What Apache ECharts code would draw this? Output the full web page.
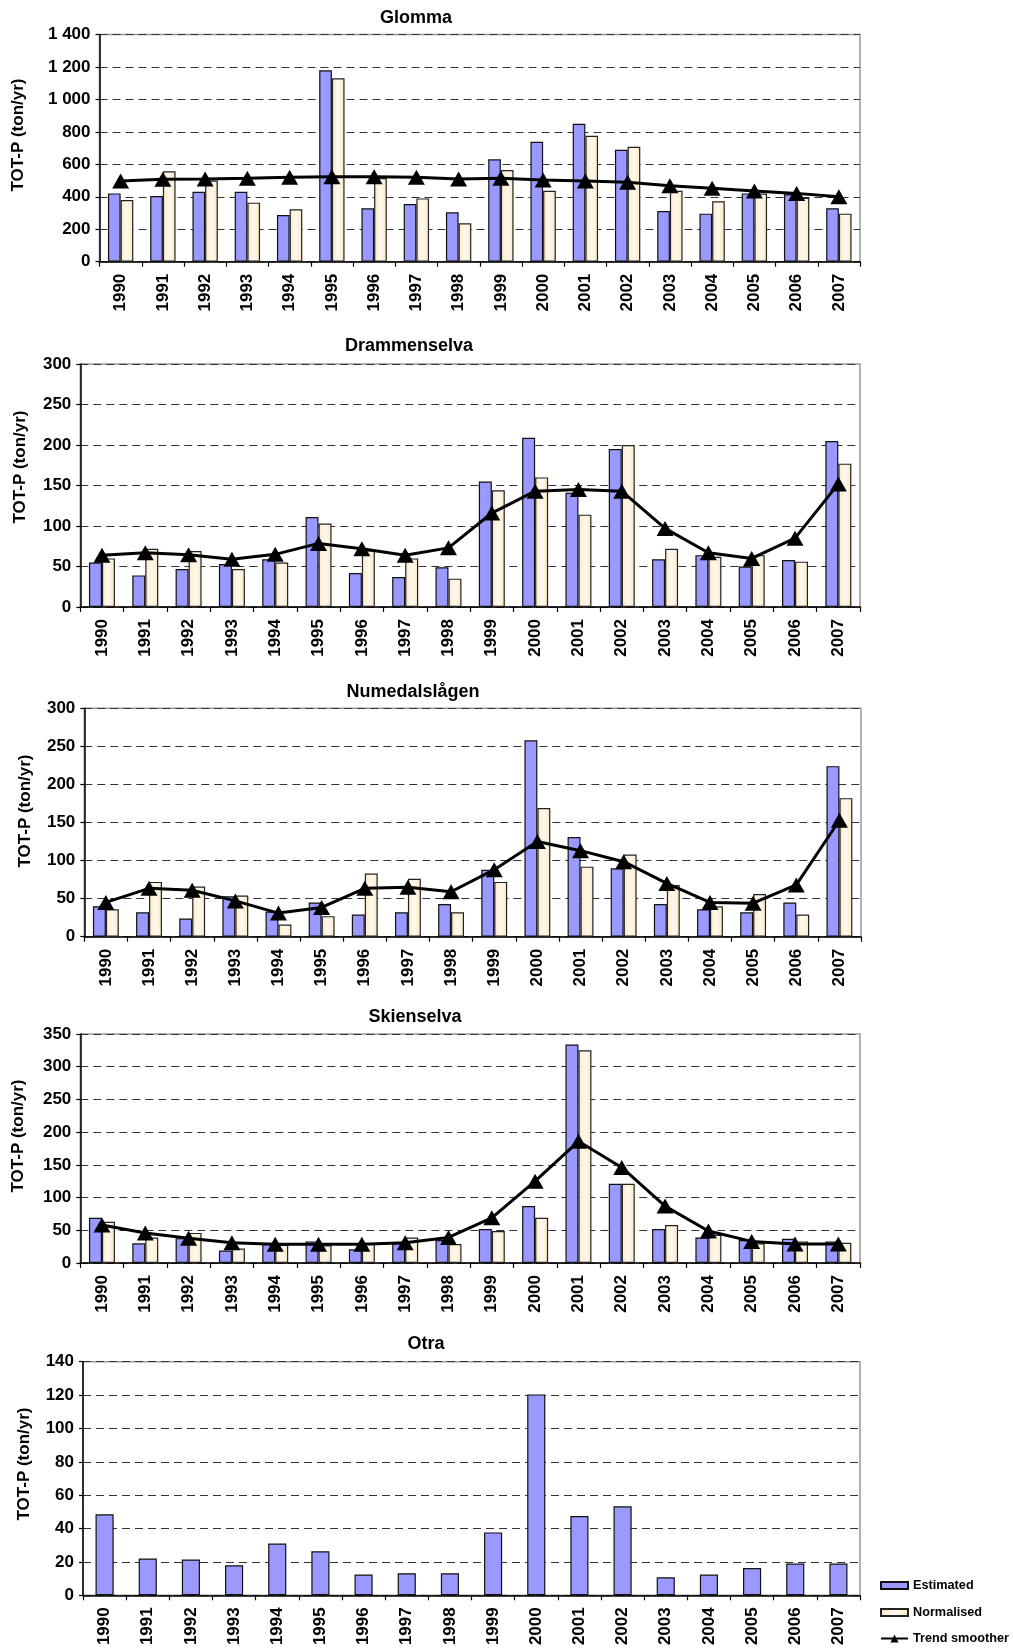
<!DOCTYPE html>
<html>
<head>
<meta charset="utf-8">
<script src="https://cdn.jsdelivr.net/npm/echarts@6/dist/echarts.min.js"></script>
<style>
html,body{margin:0;padding:0;background:#fff;}
#chart{width:1013px;height:1650px;}
</style>
</head>
<body>
<div id="chart"></div>
<script>
// ---- data ----
const years = ['1990','1991','1992','1993','1994','1995','1996','1997','1998','1999','2000','2001','2002','2003','2004','2005','2006','2007'];

const glommaEstimated  = [421,405,431,431,288,1179,329,355,304,631,739,850,690,312,296,421,415,329];
const glommaNormalised = [380,557,500,364,323,1130,515,390,237,565,437,776,708,437,372,420,394,296];
const glommaTrend      = [497,508,510,514,520,524,524,520,510,514,503,497,489,468,452,436,421,400];

const drammenEstimated  = [55,39,47,53,59,111,42,37,49,155,209,141,195,59,64,50,58,205];
const drammenNormalised = [60,72,69,47,55,103,70,60,35,144,160,114,200,72,62,64,56,177];
const drammenTrend      = [64,67,64.5,59,65,78.5,72,64,73,116,143,145,143,97,67,60,85,152];

const numedalEstimated  = [40,32,24,53,33,45,29,32,43,88,258,131,90,43,36,32,45,224];
const numedalNormalised = [36,72,66,54,16,27,83,76,32,72,169,92,108,68,40,56,29,182];
const numedalTrend      = [45,63.5,61,47,31,38.5,63.5,65,59,88,125,113,98.5,70,45,44,68,153];

const skienEstimated  = [69,30,38,19,29,33,21,30,35,52,87,334,121,52,39,35,37,33];
const skienNormalised = [63,39,46,22,28,27,30,39,29,49,69,325,121,58,43,30,33,31];
const skienTrend      = [58,46,38,31,28.5,28.5,28.5,31,39,69,125,186,146,87,49,33,29,29];

const otraEstimated = [48.5,22,21.5,18,31,26.4,12.4,13.2,13.2,37.7,120.4,47.5,53.3,10.8,12.4,16.4,19,19];

const yTicks = {
  glomma:  {max:1400, interval:200},
  drammen: {max:300, interval:50},
  numedal: {max:300, interval:50},
  skien:   {max:350, interval:50},
  otra:    {max:140, interval:20}
};
const titles = ['Glomma','Drammenselva','Numedalslågen','Skienselva','Otra'];
const yName = 'TOT-P (ton/yr)';
const legendNames = ['Estimated','Normalised','Trend smoother'];

// ---- layout ----
const FONT = '"Liberation Sans", Arial, Helvetica, sans-serif';
const panels = [
  {key:'glomma',  left:99.5, right:860, top:34.5,  bottom:261.7, est:glommaEstimated,  norm:glommaNormalised,  trend:glommaTrend,
   title:[416,18], name:[18,135], thousands:true},
  {key:'drammen', left:80.3, right:860, top:364,   bottom:607,   est:drammenEstimated, norm:drammenNormalised, trend:drammenTrend,
   title:[409,346], name:[20,467]},
  {key:'numedal', left:84.3, right:861, top:708.3, bottom:936.7, est:numedalEstimated, norm:numedalNormalised, trend:numedalTrend,
   title:[413,692], name:[25,811]},
  {key:'skien',   left:80.3, right:860, top:1034,  bottom:1263,  est:skienEstimated,   norm:skienNormalised,   trend:skienTrend,
   title:[415,1017], name:[18,1136]},
  {key:'otra',    left:83,   right:860, top:1361.7,bottom:1595.3,est:otraEstimated,
   title:[426,1344], name:[24,1464]}
];

const grid=[], xAxis=[], yAxis=[], series=[], graphic=[];
const creamGrad = new echarts.graphic.LinearGradient(0,0,1,0,[
  {offset:0,color:'#fbe8c4'},{offset:0.5,color:'#fff9ee'},{offset:1,color:'#fbe8c4'}]);

panels.forEach((p,i)=>{
  grid.push({left:p.left, top:p.top, width:p.right-p.left, height:p.bottom-p.top,
    show:true, borderColor:'#999', borderWidth:1.5, backgroundColor:'transparent', containLabel:false});
  xAxis.push({type:'category', gridIndex:i, data:years, boundaryGap:true,
    axisLine:{lineStyle:{color:'#000', width:1.5}},
    axisTick:{show:true, alignWithLabel:false, length:5, lineStyle:{color:'#000', width:1.2}},
    axisLabel:{interval:0, rotate:90, margin:12, color:'#000', fontSize:17, fontWeight:'bold', fontFamily:FONT},
    splitLine:{show:false}});
  const t = yTicks[p.key];
  yAxis.push({type:'value', gridIndex:i, min:0, max:t.max, interval:t.interval,
    axisLine:{show:true, lineStyle:{color:'#000', width:1.5}},
    axisTick:{show:true, length:4, lineStyle:{color:'#000', width:1.2}},
    axisLabel:{margin:9, color:'#000', fontSize:17, fontWeight:'bold', fontFamily:FONT,
      formatter: v => p.thousands ? String(v).replace(/\B(?=(\d{3})+(?!\d))/g,' ') : String(v)},
    splitLine:{show:true, lineStyle:{color:'#333', width:1.2, type:[8,5]}}});
  const single = !p.norm;
  series.push({type:'bar', name:legendNames[0], xAxisIndex:i, yAxisIndex:i, data:p.est,
    barWidth: single ? '42%' : '30%', barGap:'0%',
    itemStyle:{color:'#9999ff', borderColor:'#111', borderWidth:1.2}, z:2});
  if(p.norm){
    series.push({type:'bar', name:legendNames[1], xAxisIndex:i, yAxisIndex:i, data:p.norm,
      barWidth:'30%', barGap:'0%',
      itemStyle:{color:creamGrad, borderColor:'#222', borderWidth:1.2}, z:2});
  }
  if(p.trend){
    series.push({type:'line', name:legendNames[2], xAxisIndex:i, yAxisIndex:i, data:p.trend,
      symbol:'triangle', symbolSize:[17,15], showSymbol:true,
      lineStyle:{color:'#000', width:3}, itemStyle:{color:'#000'}, z:5, animation:false});
  }
  graphic.push({type:'text', x:p.title[0], y:p.title[1], z:10,
    style:{text:titles[i], fill:'#000', font:'bold 18px '+FONT, align:'center', verticalAlign:'middle'}});
  graphic.push({type:'text', x:p.name[0], y:p.name[1], rotation:Math.PI/2, z:10,
    style:{text:yName, fill:'#000', font:'bold 17px '+FONT, align:'center', verticalAlign:'middle'}});
});

const legendBase = {orient:'vertical', left:880, padding:0, itemWidth:27, itemHeight:7, selectedMode:false,
  textStyle:{fontSize:12.7, fontWeight:'bold', fontFamily:FONT, color:'#000'}};
const legend = [
  Object.assign({}, legendBase, {data:[{name:legendNames[0], icon:'rect'}], top:1579}),
  Object.assign({}, legendBase, {data:[{name:legendNames[1], icon:'rect'}], top:1606}),
  Object.assign({}, legendBase, {data:[legendNames[2]], top:1632, itemHeight:10})
];

const chart = echarts.init(document.getElementById('chart'), null, {renderer:'canvas'});
chart.setOption({animation:false, backgroundColor:'#fff', grid, xAxis, yAxis, series, legend, graphic});
</script>
</body>
</html>
